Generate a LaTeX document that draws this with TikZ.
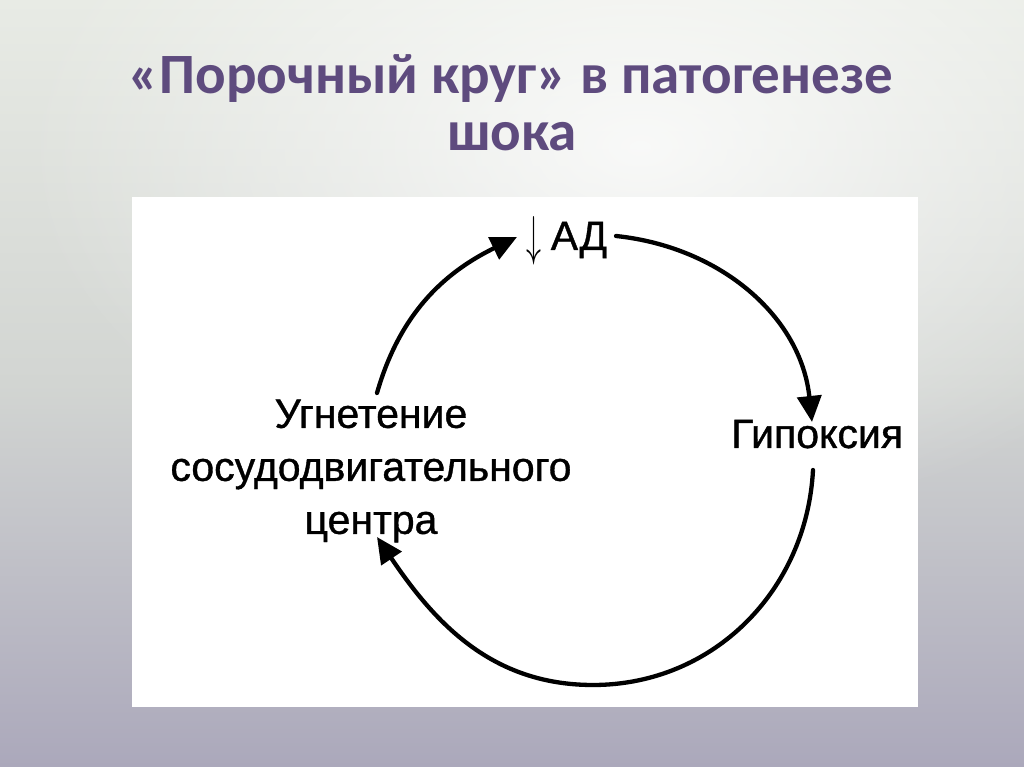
\documentclass[tikz,border=0pt]{standalone}
\usepackage{fontspec}
\usepackage{graphicx}
\setmainfont{Liberation Sans}[AutoFakeBold=0.9]
\newfontfamily\titlefont{Carlito}
\usetikzlibrary{arrows.meta,fadings}
\definecolor{bgtop}{HTML}{E8EBE5}
\definecolor{bgmid}{HTML}{D2D5D2}
\definecolor{bgbot}{HTML}{ABA8BB}
\definecolor{titlecol}{HTML}{5E4B7E}
\tikzfading[name=glow, inner color=transparent!20, outer color=transparent!100]
\tikzset{
  ttl/.style={font=\titlefont\bfseries\fontsize{57}{60}\selectfont, text=titlecol, inner sep=0pt},
  lbl/.style={font=\bfseries\fontsize{41}{53}\selectfont, text=black, inner sep=0pt},
  cyc/.style={line width=4.3pt, black, line cap=round, -{Triangle[length=26pt,width=24pt]}}
}
\begin{document}
\begin{tikzpicture}[x=1pt,y=1pt]
\useasboundingbox (0,0) rectangle (1024,767);
\fill[top color=bgtop, bottom color=bgbot, middle color=bgmid] (0,0) rectangle (1024,767);
\fill[white, path fading=glow] (640,620) ellipse (620 and 380);
\fill[white] (132,60) rectangle (918,570);
% title
\node[ttl, anchor=base] (t1) at (511,673) {«Порочный круг» в патогенезе};
\node[ttl, anchor=base] (t2) at (512,616) {шока};
% labels
\node[lbl, anchor=base] (ad) at (567,517) {\raisebox{-5pt}{\resizebox{15pt}{38pt}{$\downarrow$}}\hspace{9pt}АД};
\node[lbl, anchor=base west] (hyp) at (731,319) {Гипоксия};
\node[lbl, align=center, anchor=center] (vmc) at (371,296) {Угнетение\\сосудодвигательного\\центра};
% arc end points
\coordinate (a1s) at (377,374);
\coordinate (a1e) at (517,530);
\coordinate (a2s) at (616,531);
\coordinate (a2e) at (812,345);
\coordinate (a3s) at (813,297);
\coordinate (a3m) at (593,82);
\coordinate (a3e) at (377,230);
\draw[cyc] (a1s) to[out=74, in=206] (a1e);
\draw[cyc] (a2s) to[out=-6, in=96] (a2e);
\draw[cyc] (a3s) to[out=-93, in=0] (a3m) to[out=180, in=-56] (a3e);
\end{tikzpicture}
\end{document}
